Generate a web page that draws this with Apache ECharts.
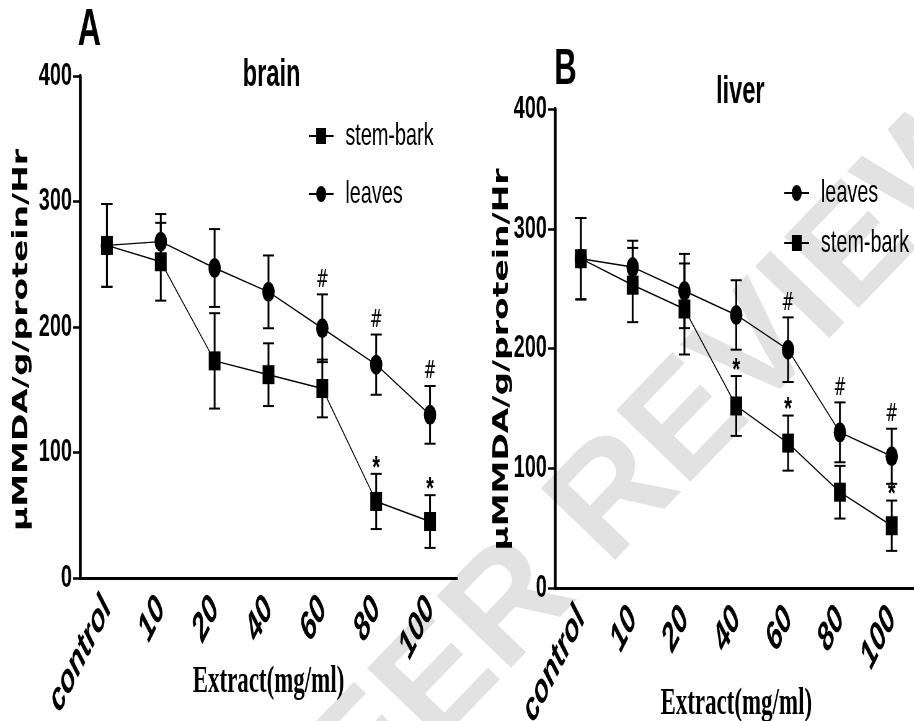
<!DOCTYPE html>
<html>
<head>
<meta charset="utf-8">
<script src="https://cdn.jsdelivr.net/npm/echarts@6/dist/echarts.min.js"></script>
<style>
html,body{margin:0;padding:0;background:#fff;overflow:hidden;width:914px;height:721px;position:relative;}
#wm{position:absolute;left:620px;top:480px;transform:translate(-50%,-50%) rotate(-46deg);white-space:nowrap;
  font-family:'Liberation Sans',sans-serif;font-weight:bold;font-size:150px;color:#e2e2e2;z-index:0;line-height:1;}
#chart{position:absolute;left:0;top:0;height:721px;transform-origin:0 0;z-index:1;}
</style>
</head>
<body>
<div id="wm">PEER REVIEW</div>
<div id="chart"></div>
<script>
// ---- data ----
const categories = ['control', '10', '20', '40', '60', '80', '100'];

const brainStem      = [265, 252, 173, 162, 151, 61, 45];
const brainStemErr   = [33, 31, 38, 25, 23, 22, 21];
const brainStemSig   = ['', '', '', '', '', '*', '*'];
const brainLeaves    = [265, 268, 247, 228, 199, 170, 130];
const brainLeavesErr = [33, 22, 31, 29, 27, 24, 23];
const brainLeavesSig = ['', '', '', '', '#', '#', '#'];

const liverStem      = [275, 253, 233, 152, 121, 80, 52];
const liverStemErr   = [34, 31, 38, 25, 23, 22, 21];
const liverStemSig   = ['', '', '', '*', '*', '', '*'];
const liverLeaves    = [275, 268, 248, 228, 199, 130, 110];
const liverLeavesErr = [34, 22, 31, 29, 27, 25, 23];
const liverLeavesSig = ['', '', '', '', '#', '#', '#'];

const yMin = 0, yMax = 400, yStep = 100;
const panelTitles = ['brain', 'liver'];
const panelLetters = ['A', 'B'];
const yName = 'μMMDA/g/protein/Hr';
const xName = 'Extract(mg/ml)';

// ---- layout (the figure is horizontally condensed) ----
const S = 0.62;
const W = Math.round(914 / S);
const el = document.getElementById('chart');
el.style.width = W + 'px';
el.style.transform = 'scaleX(' + S + ')';
const chart = echarts.init(el, null, {renderer: 'canvas', width: W, height: 721});

function errSeries(vals, errs, sigs, axis) {
  return {
    type: 'custom',
    xAxisIndex: axis, yAxisIndex: axis,
    z: 4,
    silent: true,
    data: vals.map((v, i) => [i, v, errs[i]]),
    encode: {x: 0, y: 1},
    renderItem: function (params, api) {
      const i = api.value(0), v = api.value(1), e = api.value(2);
      const top = api.coord([i, v + e]);
      const bot = api.coord([i, v - e]);
      const cap = 9;
      const children = [
        {type: 'line', shape: {x1: top[0], y1: top[1], x2: bot[0], y2: bot[1]}, style: {stroke: '#000', lineWidth: 3}},
        {type: 'line', shape: {x1: top[0] - cap, y1: top[1], x2: top[0] + cap, y2: top[1]}, style: {stroke: '#000', lineWidth: 2}},
        {type: 'line', shape: {x1: bot[0] - cap, y1: bot[1], x2: bot[0] + cap, y2: bot[1]}, style: {stroke: '#000', lineWidth: 2}}
      ];
      const sg = sigs[params.dataIndex];
      if (sg) {
        const isStar = sg === '*';
        children.push({
          type: 'text',
          style: {
            text: sg, x: top[0], y: top[1] - (isStar ? 5 : 14),
            align: 'center', verticalAlign: 'middle',
            fill: '#000',
            fontFamily: isStar ? 'Liberation Sans' : 'DejaVu Sans',
            fontWeight: isStar ? 'bold' : 'normal',
            fontSize: isStar ? 32 : 25
          }
        });
      }
      return {type: 'group', children: children};
    }
  };
}

function lineSeries(name, vals, axis, sym, size) {
  return {
    name: name, type: 'line', xAxisIndex: axis, yAxisIndex: axis,
    data: vals, symbol: sym, symbolSize: size, z: 5,
    lineStyle: {color: '#000', width: 1.4},
    itemStyle: {color: '#000'},
    emphasis: {disabled: true}
  };
}

function xAxisCfg(idx, gap) {
  return {
    type: 'category', gridIndex: idx, data: categories, boundaryGap: true,
    axisLine: {lineStyle: {color: '#000', width: 3}},
    axisTick: {alignWithLabel: true, length: 12, lineStyle: {color: '#000', width: 4.5}},
    axisLabel: {interval: 0, rotate: 51, margin: 24, color: '#000', fontFamily: 'Liberation Sans',
      fontWeight: 'bold', fontStyle: 'italic', fontSize: 40},
    name: xName, nameLocation: 'middle', nameGap: gap, nameMoveOverlap: false,
    nameTextStyle: {color: '#000', fontFamily: 'Liberation Serif', fontWeight: 'bold', fontSize: 37}
  };
}

function yAxisCfg(idx, gap, shift) {
  return {
    type: 'value', gridIndex: idx, min: yMin, max: yMax, interval: yStep,
    splitLine: {show: false},
    axisLine: {show: true, lineStyle: {color: '#000', width: 4.5}},
    axisTick: {show: true, length: 11, lineStyle: {color: '#000', width: 2.5}},
    axisLabel: {margin: 13, color: '#000', fontFamily: 'Liberation Sans', fontWeight: 'bold', fontSize: 32},
    name: yName, nameLocation: 'middle', nameGap: gap, nameMoveOverlap: false,
    nameTextStyle: {color: '#000', fontFamily: 'DejaVu Sans', fontWeight: 'bold', fontSize: 33, padding: [0, shift, 0, 0]}
  };
}

const legendText = {color: '#000', fontFamily: 'Liberation Sans', fontSize: 32, padding: [0, 0, 0, 14]};

const option = {
  animation: false,
  backgroundColor: 'transparent',
  title: [
    {text: panelLetters[0], left: 139, top: 0, textAlign: 'center', textStyle: {color: '#000', fontFamily: 'Liberation Sans', fontWeight: 'bold', fontSize: 52}},
    {text: panelTitles[0], left: 433, top: 52, textAlign: 'center', textStyle: {color: '#000', fontFamily: 'Liberation Sans', fontWeight: 'bold', fontSize: 38}},
    {text: panelLetters[1], left: 907, top: 40, textAlign: 'center', textStyle: {color: '#000', fontFamily: 'Liberation Sans', fontWeight: 'bold', fontSize: 50}},
    {text: panelTitles[1], left: 1189, top: 69, textAlign: 'center', textStyle: {color: '#000', fontFamily: 'Liberation Sans', fontWeight: 'bold', fontSize: 38}}
  ],
  legend: [
    {data: ['stem-bark', 'leaves'], orient: 'vertical', left: 492, top: 115, itemWidth: 40, itemHeight: 20, itemGap: 26,
      selectedMode: false, textStyle: legendText},
    {data: ['leaves', 'stem-bark'], orient: 'vertical', left: 1259, top: 172, itemWidth: 40, itemHeight: 20, itemGap: 18,
      selectedMode: false, textStyle: legendText}
  ],
  grid: [
    {left: 129, top: 76, width: 608, height: 502, containLabel: false, outerBoundsMode: 'none'},
    {left: 895, top: 109, width: 585, height: 479, containLabel: false, outerBoundsMode: 'none'}
  ],
  xAxis: [xAxisCfg(0, 86), xAxisCfg(1, 98)],
  yAxis: [yAxisCfg(0, 77, 26), yAxisCfg(1, 68, 22)],
  series: [
    errSeries(brainLeaves, brainLeavesErr, brainLeavesSig, 0),
    errSeries(brainStem, brainStemErr, brainStemSig, 0),
    lineSeries('leaves', brainLeaves, 0, 'circle', 20),
    lineSeries('stem-bark', brainStem, 0, 'rect', 19),
    errSeries(liverLeaves, liverLeavesErr, liverLeavesSig, 1),
    errSeries(liverStem, liverStemErr, liverStemSig, 1),
    lineSeries('leaves', liverLeaves, 1, 'circle', 20),
    lineSeries('stem-bark', liverStem, 1, 'rect', 19)
  ]
};
chart.setOption(option);
</script>
</body>
</html>
